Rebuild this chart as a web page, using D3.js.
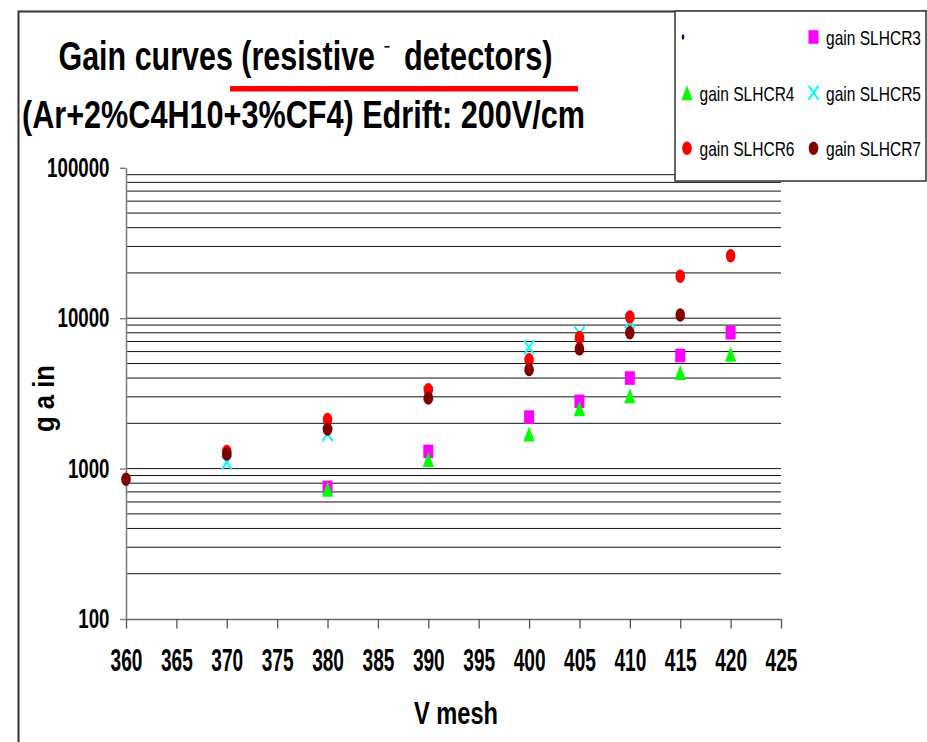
<!DOCTYPE html>
<html>
<head>
<meta charset="utf-8">
<script src="https://cdn.jsdelivr.net/npm/d3@7"></script>
<style>
  html, body { margin: 0; padding: 0; background: #fff; }
  svg { display: block; }
</style>
</head>
<body>
<svg id="chart" width="927" height="742"></svg>
<script>
// Mesh voltage (V) at which each gain was measured
const vmesh = [360, 370, 380, 390, 400, 405, 410, 415, 420];

// Gain per detector (null = not measured)
const gainUnnamed = [null, null, null, null, null, null, null, null, null];
const gainSLHCR3  = [null, null,  750, 1300, 2200, 2800,  4000,  5650,  8000];
const gainSLHCR4  = [null, null,  730, 1150, 1700, 2500,  3050,  4350,  5750];
const gainSLHCR5  = [null, 1100, 1700, 3150, 6400, 7900,  9600,  null,  null];
const gainSLHCR6  = [null, 1300, 2120, 3350, 5300, 7450, 10200, 19000, 26000];
const gainSLHCR7  = [ 850, 1250, 1830, 2950, 4550, 6250,  8000, 10500,  null];

const seriesNames  = ["", "gain SLHCR3", "gain SLHCR4", "gain SLHCR5", "gain SLHCR6", "gain SLHCR7"];
const seriesGains  = [gainUnnamed, gainSLHCR3, gainSLHCR4, gainSLHCR5, gainSLHCR6, gainSLHCR7];
const seriesColors = ["#000080", "#ff00ff", "#00ff00", "#00ffff", "#ff0000", "#800000"];
const seriesShapes = ["dot", "square", "triangle", "cross", "circle", "circle"];

// Axis ticks
const xTickValues = [360, 365, 370, 375, 380, 385, 390, 395, 400, 405, 410, 415, 420, 425];
const yTickValues = [100, 1000, 10000, 100000];

const FONT = "'Liberation Sans Narrow','Arial Narrow','Liberation Sans',Arial,sans-serif";

const svg = d3.select("#chart");
svg.append("rect").attr("width", 927).attr("height", 742).attr("fill", "#fff");

const x = d3.scaleLinear().domain([360, 425]).range([126, 781]);
const y = d3.scaleLog().domain([100, 100000]).range([619, 167.8]);

// Horizontal gridlines at every 1..9 x 10^k inside the plot
const gridValues = d3.range(2, 5)
  .flatMap(k => d3.range(1, 10).map(m => m * Math.pow(10, k)))
  .filter(v => v > 100);

svg.append("g").selectAll("line").data(gridValues).join("line")
  .attr("x1", x(360)).attr("x2", x(425))
  .attr("y1", d => y(d)).attr("y2", d => y(d))
  .attr("stroke", "#111").attr("stroke-width", 1);

// Y axis (log)
const yAxis = svg.append("g")
  .attr("transform", `translate(${x(360)},0)`)
  .call(d3.axisLeft(y).tickValues(yTickValues).tickFormat(d3.format("d"))
    .tickSize(6).tickSizeOuter(0).tickPadding(10.5));
yAxis.select(".domain").attr("stroke", "#808080").attr("stroke-width", 1.6);
yAxis.selectAll(".tick line").attr("stroke", "#808080").attr("stroke-width", 1.4);
yAxis.selectAll(".tick text")
  .attr("font-family", FONT).attr("font-weight", "bold").attr("font-size", 27).attr("fill", "#000")
  .attr("textLength", d => String(d).length * 10.4).attr("lengthAdjust", "spacingAndGlyphs");

// X axis
const xAxis = svg.append("g")
  .attr("transform", `translate(0,${y(100)})`)
  .call(d3.axisBottom(x).tickValues(xTickValues).tickFormat(d3.format("d"))
    .tickSize(9.5).tickSizeOuter(0).tickPadding(20));
xAxis.select(".domain").attr("stroke", "#6a6a6a").attr("stroke-width", 1.5);
xAxis.selectAll(".tick line").attr("stroke", "#555").attr("stroke-width", 1.3);
xAxis.selectAll(".tick text")
  .attr("font-family", FONT).attr("font-weight", "bold").attr("font-size", 32).attr("fill", "#000")
  .attr("textLength", d => String(d).length * 10.6).attr("lengthAdjust", "spacingAndGlyphs");

// Marker drawing
function drawMarker(g, shape, color, cx, cy) {
  if (shape === "square") {
    g.append("rect").attr("x", cx - 5).attr("y", cy - 6.8).attr("width", 10).attr("height", 13.6)
      .attr("fill", color);
  } else if (shape === "triangle") {
    g.append("path")
      .attr("d", `M${cx},${cy - 7.5}L${cx + 5.6},${cy + 7.5}L${cx - 5.6},${cy + 7.5}Z`)
      .attr("fill", color);
  } else if (shape === "cross") {
    g.append("path")
      .attr("d", `M${cx - 5},${cy - 7}L${cx + 5},${cy + 7}M${cx + 5},${cy - 7}L${cx - 5},${cy + 7}`)
      .attr("stroke", color).attr("stroke-width", 2).attr("fill", "none");
  } else if (shape === "circle") {
    g.append("ellipse").attr("cx", cx).attr("cy", cy).attr("rx", 4.8).attr("ry", 6.7)
      .attr("fill", color);
  } else if (shape === "dot") {
    g.append("ellipse").attr("cx", cx).attr("cy", cy).attr("rx", 1.3).attr("ry", 2.8)
      .attr("fill", color);
  }
}

// Data points, series drawn in order so later ones sit on top
const pointsG = svg.append("g");
seriesGains.forEach((gains, si) => {
  gains.forEach((g, i) => {
    if (g == null) return;
    drawMarker(pointsG, seriesShapes[si], seriesColors[si], x(vmesh[i]), y(g));
  });
});

// Chart frame
svg.append("path").attr("d", "M18.5,742V11.5H927")
  .attr("fill", "none").attr("stroke", "#333").attr("stroke-width", 2);

// Legend
const legend = svg.append("g");
legend.append("rect").attr("x", 675).attr("y", 11).attr("width", 251).attr("height", 170)
  .attr("fill", "#fff").attr("stroke", "#333").attr("stroke-width", 1.5);
const legendCols = [687, 813.5];
const legendRows = [37, 92.7, 148.3];
seriesNames.forEach((name, si) => {
  const cx = legendCols[si % 2];
  const cy = legendRows[Math.floor(si / 2)];
  drawMarker(legend, seriesShapes[si], seriesColors[si], si === 0 ? cx - 4 : cx, cy);
  if (name) {
    legend.append("text")
      .attr("x", cx + 12.5).attr("y", cy + 7.8)
      .attr("font-family", FONT).attr("font-size", 21).attr("fill", "#000")
      .attr("textLength", 95).attr("lengthAdjust", "spacingAndGlyphs")
      .text(name);
  }
});

// Titles
const title = svg.append("g").attr("font-family", FONT).attr("font-weight", "bold").attr("fill", "#000");
title.append("text").attr("x", 58.5).attr("y", 70).attr("font-size", 40)
  .attr("textLength", 316.5).attr("lengthAdjust", "spacingAndGlyphs")
  .text("Gain curves (resistive");
title.append("rect").attr("x", 384.5).attr("y", 46).attr("width", 5).attr("height", 1.6);
title.append("text").attr("x", 404).attr("y", 70).attr("font-size", 40)
  .attr("textLength", 148.5).attr("lengthAdjust", "spacingAndGlyphs")
  .text("detectors)");
svg.append("rect").attr("x", 230).attr("y", 86).attr("width", 348).attr("height", 5.5).attr("fill", "#ff0000");
title.append("text").attr("x", 22).attr("y", 128).attr("font-size", 39)
  .attr("textLength", 563).attr("lengthAdjust", "spacingAndGlyphs")
  .text("(Ar+2%C4H10+3%CF4) Edrift: 200V/cm");

// Axis titles
title.append("text").attr("x", 456).attr("y", 723.5).attr("font-size", 32)
  .attr("text-anchor", "middle")
  .attr("textLength", 84).attr("lengthAdjust", "spacingAndGlyphs")
  .text("V mesh");
title.append("text").attr("transform", "translate(54,398.5) rotate(-90)")
  .attr("font-size", 30).attr("text-anchor", "middle")
  .attr("textLength", 67).attr("lengthAdjust", "spacingAndGlyphs")
  .text("g a in");
</script>
</body>
</html>
